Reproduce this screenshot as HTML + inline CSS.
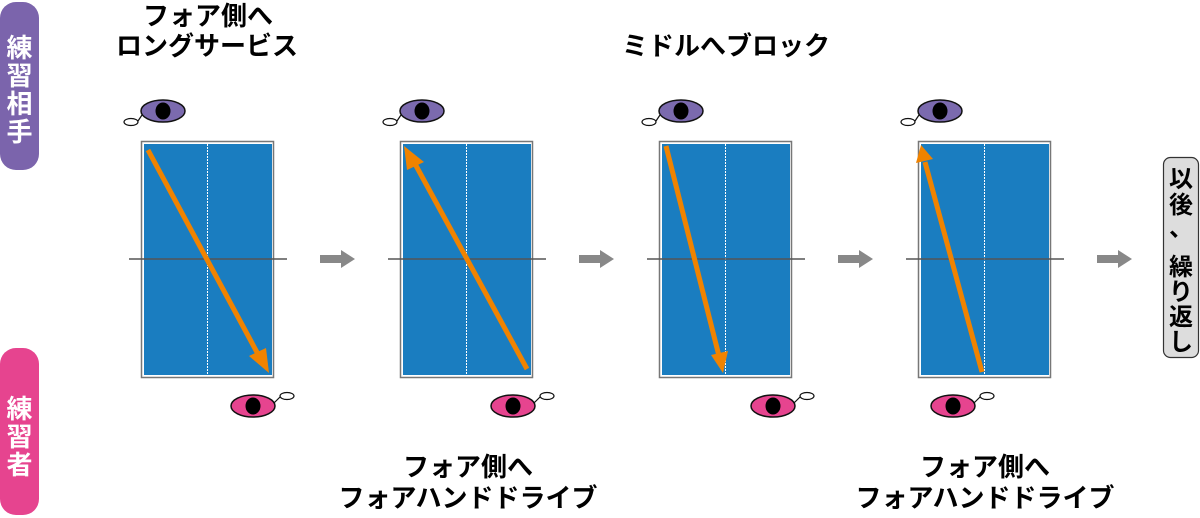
<!DOCTYPE html>
<html><head><meta charset="utf-8"><style>
html,body{margin:0;padding:0;background:#fff;width:1200px;height:518px;overflow:hidden}
svg text{font-family:"Liberation Sans","Noto Sans CJK JP",sans-serif;font-weight:bold}
</style></head><body>
<svg width="1200" height="518" viewBox="0 0 1200 518" xmlns="http://www.w3.org/2000/svg">
<defs>
<g id="tbl">
<rect x="141.5" y="141.5" width="132" height="236" fill="#fff" stroke="#777" stroke-width="1.5"/>
<rect x="144" y="144" width="128" height="231" fill="#1a7dc0"/>
<line x1="207.5" y1="144" x2="207.5" y2="375" stroke="#fff" stroke-width="1" stroke-dasharray="2,1"/>
<line x1="129" y1="259" x2="287" y2="259" stroke="#555" stroke-width="1.5"/>
</g>
<g id="garr"><polygon points="320,255 341,255 341,250 355,259 341,268 341,263 320,263" fill="#888"/></g>
<g id="peye"><ellipse cx="0" cy="0" rx="22" ry="11" fill="#7b6aae" stroke="#111" stroke-width="1.5"/><ellipse cx="0" cy="0" rx="7.5" ry="8.5" fill="#000"/><ellipse cx="-32" cy="11" rx="7" ry="3.5" fill="#fff" stroke="#111" stroke-width="1.2"/><line x1="-25" y1="10" x2="-21" y2="4" stroke="#111" stroke-width="1.2"/></g>
<g id="keye"><ellipse cx="0" cy="0" rx="22" ry="11" fill="#e6448f" stroke="#111" stroke-width="1.5"/><ellipse cx="0" cy="0" rx="7.5" ry="8.5" fill="#000"/><ellipse cx="34" cy="-10" rx="7" ry="3.5" fill="#fff" stroke="#111" stroke-width="1.2"/><line x1="27" y1="-9" x2="21" y2="-3" stroke="#111" stroke-width="1.2"/></g>
</defs>
<rect x="0" y="2" width="39" height="168" rx="16" fill="#7b64ac"/>
<text x="19.5" y="57" fill="#fff" font-size="26" text-anchor="middle">練</text>
<text x="19.5" y="85" fill="#fff" font-size="26" text-anchor="middle">習</text>
<text x="19.5" y="113" fill="#fff" font-size="26" text-anchor="middle">相</text>
<text x="19.5" y="141" fill="#fff" font-size="26" text-anchor="middle">手</text>
<rect x="0" y="348" width="39" height="167" rx="16" fill="#e6448f"/>
<text x="19.5" y="418" fill="#fff" font-size="26" text-anchor="middle">練</text>
<text x="19.5" y="446" fill="#fff" font-size="26" text-anchor="middle">習</text>
<text x="19.5" y="474" fill="#fff" font-size="26" text-anchor="middle">者</text>

<use href="#tbl"/><use href="#tbl" x="259"/><use href="#tbl" x="518"/><use href="#tbl" x="777"/>
<use href="#garr"/><use href="#garr" x="259"/><use href="#garr" x="518"/><use href="#garr" x="777"/>

<use href="#peye" x="163" y="111"/><use href="#peye" x="422" y="111"/><use href="#peye" x="681" y="111"/><use href="#peye" x="940" y="111"/>
<use href="#keye" x="253" y="406"/><use href="#keye" x="513" y="406"/><use href="#keye" x="773" y="406"/><use href="#keye" x="953" y="406"/>

<g stroke="#f08300" stroke-width="5" fill="#f08300">
<line x1="148" y1="150" x2="259" y2="356"/>
<polygon points="269,373 249,356 266,348" stroke="none"/>
<line x1="527" y1="369" x2="414" y2="162" />
<polygon points="404,146 424,162 407,170" stroke="none"/>
<line x1="666" y1="146" x2="719" y2="356"/>
<polygon points="723,373 711,355 728,351" stroke="none"/>
<line x1="982" y1="372" x2="925" y2="162"/>
<polygon points="921,145 916,163 933,159" stroke="none"/>
</g>

<rect x="1163.5" y="157.5" width="35" height="200" rx="7" fill="#ddd" stroke="#333" stroke-width="1.2"/>
<g font-size="24" fill="#000" text-anchor="middle">
<text x="1181" y="187">以</text><text x="1181" y="213">後</text><text x="1181" y="236">、</text>
<text x="1181" y="275">繰</text><text x="1181" y="300">り</text><text x="1181" y="325">返</text><text x="1181" y="350">し</text>
</g>

<g font-size="26" fill="#000" text-anchor="middle">
<text x="208" y="25">フォア側へ</text>
<text x="207" y="55">ロングサービス</text>
<text x="726" y="55">ミドルへブロック</text>
<text x="468" y="476">フォア側へ</text>
<text x="468" y="507">フォアハンドドライブ</text>
<text x="985" y="476">フォア側へ</text>
<text x="985" y="507">フォアハンドドライブ</text>
</g>
</svg>
</body></html>
